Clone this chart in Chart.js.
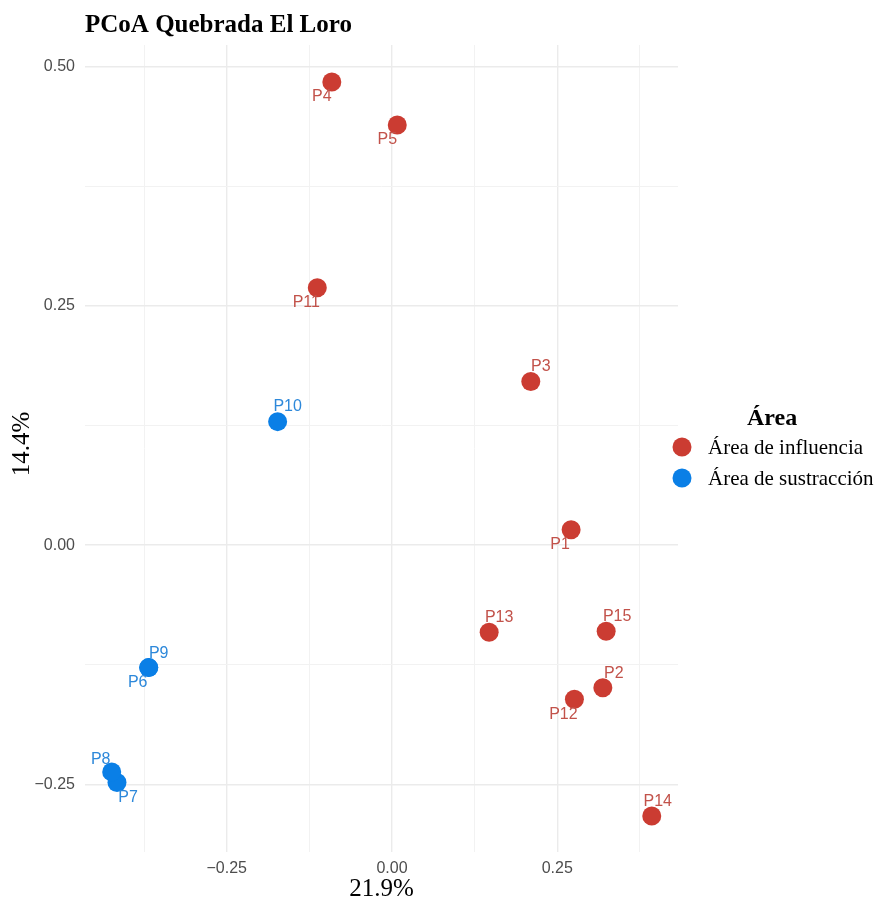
<!DOCTYPE html>
<html>
<head>
<meta charset="utf-8">
<script src="https://cdn.jsdelivr.net/npm/chart.js@4/dist/chart.umd.min.js"></script>
<style>
  html, body { margin: 0; padding: 0; background: #fff; }
  #wrap { width: 880px; height: 903px; position: relative; }
</style>
</head>
<body>
<div id="wrap"><canvas id="chart1"></canvas></div>
<script>
// sitios (PCoA eje 1 = 21.9%, eje 2 = 14.4%)
var influenciaNames = ["P1", "P2", "P3", "P4", "P5", "P11", "P12", "P13", "P14", "P15"];
var influenciaX = [0.271, 0.319, 0.210, -0.091, 0.008, -0.113, 0.276, 0.147, 0.393, 0.324];
var influenciaY = [0.016, -0.149, 0.171, 0.484, 0.439, 0.269, -0.161, -0.091, -0.283, -0.090];

var sustraccionNames = ["P6", "P7", "P8", "P9", "P10"];
var sustraccionX = [-0.368, -0.416, -0.424, -0.368, -0.173];
var sustraccionY = [-0.128, -0.248, -0.237, -0.128, 0.129];

var xTicks = [-0.375, -0.25, -0.125, 0, 0.125, 0.25, 0.375];
var yTicks = [-0.25, -0.125, 0, 0.125, 0.25, 0.375, 0.5];
var xLabels = {"-0.25": "\u22120.25", "0": "0.00", "0.25": "0.25"};
var yLabels = {"-0.25": "\u22120.25", "0": "0.00", "0.25": "0.25", "0.5": "0.50"};

// desplazamiento de etiquetas (px), estilo ggrepel
var influenciaNudge = [[-11, 15], [11, -14], [10, -15], [-10, 15], [-10, 15], [-11, 15], [-11, 15], [10, -15], [6, -14], [11, -15]];
var sustraccionNudge = [[-11, 15], [11, 15], [-11, -12], [10, -14], [10, -15]];

var RED = 'rgb(203,60,50)';
var BLUE = 'rgb(10,127,230)';
var RED_TXT = 'rgb(194,82,74)';
var BLUE_TXT = 'rgb(45,136,218)';

function pts(xs, ys) {
    return xs.map(function(x, i) { return {x: x, y: ys[i]}; });
}

var labelPlugin = {
    id: 'extras',
    afterDatasetsDraw: function(chart) {
        var ctx = chart.ctx;
        ctx.save();
        ctx.font = '16px "Liberation Sans", Arial, sans-serif';
        ctx.textAlign = 'center';
        ctx.textBaseline = 'middle';
        chart.data.datasets.forEach(function(ds, di) {
            var meta = chart.getDatasetMeta(di);
            ctx.fillStyle = ds.labelColor;
            meta.data.forEach(function(el, i) {
                var n = ds.nudge[i];
                ctx.fillText(ds.names[i], el.x + n[0], el.y + n[1]);
            });
        });
        ctx.restore();
    },
    afterDraw: function(chart) {
        var ctx = chart.ctx;
        var ca = chart.chartArea;
        ctx.save();
        // title
        ctx.fillStyle = '#000';
        ctx.font = 'bold 25px "Liberation Serif", "Times New Roman", serif';
        ctx.textAlign = 'left';
        ctx.textBaseline = 'alphabetic';
        ctx.fillText('PCoA Quebrada El Loro', 85, 32);
        // axis titles
        ctx.font = '25px "Liberation Serif", "Times New Roman", serif';
        ctx.textAlign = 'center';
        ctx.textBaseline = 'middle';
        ctx.fillText('21.9%', (ca.left + ca.right) / 2, 889);
        ctx.save();
        ctx.translate(22, 444);
        ctx.rotate(-Math.PI / 2);
        ctx.fillText('14.4%', 0, 0);
        ctx.restore();
        // legend
        ctx.font = 'bold 24px "Liberation Serif", "Times New Roman", serif';
        ctx.textAlign = 'left';
        ctx.textBaseline = 'alphabetic';
        ctx.fillText('\u00c1rea', 747, 425);
        var items = [['\u00c1rea de influencia', RED, 447], ['\u00c1rea de sustracci\u00f3n', BLUE, 478]];
        ctx.font = '21px "Liberation Serif", "Times New Roman", serif';
        ctx.textBaseline = 'middle';
        items.forEach(function(it) {
            ctx.fillStyle = it[1];
            ctx.beginPath();
            ctx.arc(682, it[2], 9.5, 0, Math.PI * 2);
            ctx.fill();
            ctx.fillStyle = '#000';
            ctx.fillText(it[0], 708, it[2] + 1);
        });
        ctx.restore();
    }
};

function isMajor(c) {
    var v = c.tick ? c.tick.value : 0;
    return Math.abs(v * 4 - Math.round(v * 4)) < 1e-6;
}

var ctx = document.getElementById('chart1').getContext('2d');
var chart = new Chart(ctx, {
    type: 'scatter',
    data: {
        datasets: [{
            label: '\u00c1rea de influencia',
            data: pts(influenciaX, influenciaY),
            names: influenciaNames,
            nudge: influenciaNudge,
            labelColor: RED_TXT,
            backgroundColor: RED,
            borderWidth: 0,
            pointRadius: 9.5,
            pointHoverRadius: 9.5
        }, {
            label: '\u00c1rea de sustracci\u00f3n',
            data: pts(sustraccionX, sustraccionY),
            names: sustraccionNames,
            nudge: sustraccionNudge,
            labelColor: BLUE_TXT,
            backgroundColor: BLUE,
            borderWidth: 0,
            pointRadius: 9.5,
            pointHoverRadius: 9.5
        }]
    },
    plugins: [labelPlugin],
    options: {
        responsive: true,
        maintainAspectRatio: false,
        animation: false,
        layout: {padding: {top: 45, right: 202, bottom: 21, left: 0}},
        plugins: {legend: {display: false}, tooltip: {enabled: false}},
        scales: {
            x: {
                type: 'linear',
                min: -0.4644,
                max: 0.4327,
                afterFit: function(s) { s.height = 30; },
                afterBuildTicks: function(s) { s.ticks = xTicks.map(function(v) { return {value: v}; }); },
                border: {display: false},
                grid: {
                    drawTicks: false,
                    color: function(c) { return isMajor(c) ? '#EBEBEB' : '#F2F2F2'; },
                    lineWidth: function(c) { return isMajor(c) ? 1.4 : 1; }
                },
                ticks: {
                    padding: 7,
                    color: '#4D4D4D',
                    font: {family: '"Liberation Sans", Arial, sans-serif', size: 16},
                    maxRotation: 0,
                    autoSkip: false,
                    callback: function(v) { return xLabels[String(v)] || ''; }
                }
            },
            y: {
                type: 'linear',
                min: -0.3207,
                max: 0.5226,
                afterFit: function(s) { s.width = 85; },
                afterBuildTicks: function(s) { s.ticks = yTicks.map(function(v) { return {value: v}; }); },
                border: {display: false},
                grid: {
                    drawTicks: false,
                    color: function(c) { return isMajor(c) ? '#EBEBEB' : '#F2F2F2'; },
                    lineWidth: function(c) { return isMajor(c) ? 1.4 : 1; }
                },
                ticks: {
                    padding: 10,
                    color: '#4D4D4D',
                    font: {family: '"Liberation Sans", Arial, sans-serif', size: 16},
                    autoSkip: false,
                    callback: function(v) { return yLabels[String(v)] || ''; }
                }
            }
        }
    }
});
</script>
</body>
</html>
